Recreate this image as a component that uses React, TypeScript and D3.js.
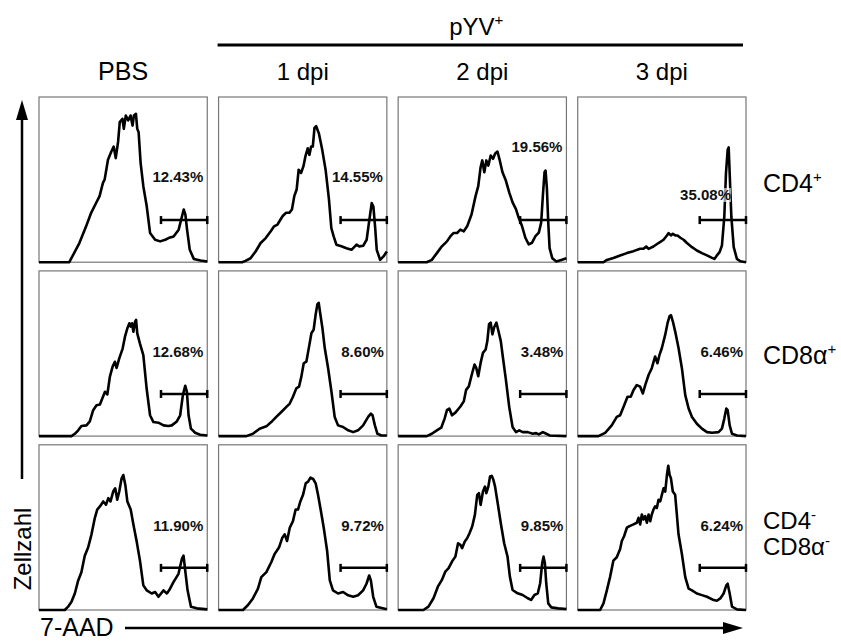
import React from 'react';
import * as d3 from 'd3';

// column and row headers
const columns = ['PBS', '1 dpi', '2 dpi', '3 dpi'];
const rowKeys = ['cd4', 'cd8', 'dn'];

// 7-AAD histograms, [channel %, count % of panel height]
const cd4Pbs = [[0,0],[18,0],[24,11.6],[28,21.7],[31,29.9],[34,36],[36,40],[38,48],[39,50],[41,62],[43,67],[44.4,70],[45.6,63],[47,72.8],[48,84.8],[49.6,86.8],[50.4,80.7],[51.6,88.8],[53,85.8],[54.4,88.8],[55.6,82.7],[56.4,88.8],[57.6,89.8],[58.4,80.7],[59.2,78.7],[60.4,60],[62,46],[64,34],[66,17.7],[69,13.6],[72,12.6],[75,13.6],[77,14.6],[80,15.6],[83,19.7],[85,27.8],[86,31.9],[87,28.8],[88,19.7],[89.6,7.5],[92,2],[96,1],[100,0.4]];
const cd4Dpi1 = [[0,0],[14,0],[16,0.8],[19,2.4],[22,6.5],[25,11.6],[28,14.6],[31,18.7],[33,21.7],[35,22.8],[38,27.8],[40,29.9],[42,29.9],[43.6,31.9],[45,40],[46.4,44],[47.6,56],[49,54],[50.4,58],[51.6,64],[53,69],[54,65],[55,70],[56,70],[57,81.3],[58,82.3],[59.6,78],[61.6,68],[63.6,56],[65.6,38],[67,20.7],[68.4,15.6],[70,10.6],[73,9.6],[76,8.5],[79,7.5],[82,10.6],[83.6,9.6],[86,10],[88,13.6],[89.6,25.6],[91,35.8],[92,33.7],[93,21.7],[94,7.5],[96,1.4],[98,3.5],[100,6.5]];
const cd4Dpi2 = [[0,0],[17,0],[20,1.4],[23,5.5],[26,9.6],[29,12.6],[31,15.6],[33,17.7],[35,17.7],[37,19.7],[39,18.7],[41,21.7],[43.6,28.9],[46,40],[47.6,46],[49,57.5],[50,61.6],[51.2,54.5],[52.4,61.6],[53.6,58.5],[55,64.6],[56.4,62.6],[57.6,65.7],[59,67],[60.4,61.6],[62,54.5],[64,49.4],[66,42.3],[68,36.2],[70,32.1],[71.6,27],[73.6,21.9],[75.6,14.8],[77.6,10.8],[79.6,11.8],[81.6,15.8],[83.6,17.9],[85,24],[86,40.2],[87,54.5],[87.6,55.5],[88.4,44.5],[89.2,24],[90,8.5],[91.6,2.4],[94,0.4],[97,1.4],[100,2.4]];
const cd4Dpi3 = [[0,0],[15.3,0],[17.3,1.4],[21.2,2.6],[25.2,4.1],[29.2,5.5],[33.1,6.7],[37.1,8.1],[39.1,8.1],[40.7,9.5],[42.1,8.1],[45,9.5],[48,11.6],[51,13.6],[53,16.2],[54,17.6],[55.4,16.2],[56.5,17.2],[58,16.2],[59.3,16.2],[61,14.8],[62.9,13.6],[64.9,11.6],[67.9,9.1],[70.8,7.1],[73.8,5.5],[76.8,4.1],[79.8,2.6],[81.2,2],[82.7,4.1],[84.3,6.1],[85.7,10.1],[87.1,27.4],[88.1,53.8],[89.1,68],[89.7,69.5],[90.3,53.8],[91.3,27.4],[92.7,9.1],[94.6,2],[96.6,0.6],[100,0]];

const cd8Pbs = [[0,0],[19.3,0],[21.3,1.4],[23.3,3.5],[25.2,6.1],[28.2,6.5],[30.2,8.9],[32.2,15.7],[34.2,18.7],[36.2,19.1],[37.2,21.7],[39.2,26.8],[40.6,25.2],[42.1,35.8],[43.7,41.9],[45.1,45],[46.1,41.3],[47.7,47],[49.7,53],[51.1,60.2],[52.5,65.2],[53.7,68.3],[54.5,66.3],[55.3,68.3],[56.1,63.2],[57.1,69.3],[57.7,70.3],[58.4,62.2],[60,56],[62,49],[64,28.5],[66,12.6],[68,8.5],[71,8.1],[74,6.5],[76.9,6.1],[78.9,6.5],[81.9,8.9],[83.9,12.6],[85.5,24.8],[86.9,30.5],[87.9,26.8],[88.9,12.6],[90.3,4.5],[92.8,2],[95.8,0.8],[100,0.4]];
const cd8Dpi1 = [[0,0],[16.5,0],[20.4,1.4],[24.4,4.5],[28.4,5.9],[31.3,8.5],[34.3,11.6],[37.3,14.6],[40.3,17.7],[42.3,19.7],[44.2,23.8],[46.2,28.9],[47.8,29.9],[49.2,36],[50.6,44.1],[52.2,45.1],[53.8,54.3],[55.2,62.4],[56.5,64.4],[57.7,73.6],[58.7,79.7],[59.5,80.7],[60.5,73.6],[61.7,65.5],[63.1,53.3],[65.1,41.1],[67.1,26.8],[69,11.6],[71,6.5],[74,5.5],[77,3.5],[80,2.4],[82.9,3.5],[85.9,6.5],[88.9,11.6],[90.5,13.6],[91.5,12.6],[92.9,6.5],[94.4,1.4],[96.8,0.4],[100,0.4]];
const cd8Dpi2 = [[0,0],[17,0],[20,1.4],[23,3.5],[25.6,5.1],[27.6,10.6],[29,15.7],[30.4,16.7],[32,12.6],[34,14.2],[37,17.9],[39,21],[40.4,28],[42,30.1],[44,38.2],[45.4,43.3],[46.4,41.3],[47.6,36.2],[49,44.3],[50.4,50.4],[52,52.4],[53,57.5],[54,67.7],[55,68.7],[56,61.6],[57,65.7],[58.4,68.7],[59.6,63.6],[61,57.5],[62.4,46.5],[64,34.3],[66,17.7],[68,5.5],[70,2.4],[72,3.5],[74,2.4],[77,2.4],[80,1.4],[82,1.8],[83.6,1],[86,2.4],[88,1.4],[90,0.4],[100,0]];
const cd8Dpi3 = [[0,0],[12.3,0],[16.3,2],[20.2,6.5],[23.2,11.6],[25.2,12.6],[27.6,18.7],[29.6,23.8],[31.5,23.8],[33.1,27.8],[35.1,30.9],[37.1,29.9],[38.7,25.8],[40.1,30.9],[42.1,37],[44,41.1],[46,48.2],[47.4,44.1],[48.6,49.2],[50,53.3],[52,61.4],[53.4,68.5],[54.6,72.6],[55.4,73.2],[56.5,69.5],[57.9,63.4],[59.9,53.3],[61.9,41.1],[63.9,24.8],[65.9,16.7],[67.9,11.6],[70.8,7.5],[73.8,4.5],[76.8,2.4],[79.8,2],[83.7,2.4],[85.7,4.5],[87.1,10.6],[88.3,16.7],[89.1,15.7],[90.3,6.5],[91.7,1.4],[94.6,0.4],[100,0]];

const dnPbs = [[0,0],[15.3,0],[17.3,2],[19.3,5],[21.3,10],[23.3,17.9],[25.2,22.9],[27.2,32.9],[29.2,37.8],[31.2,45.8],[33.2,55.8],[34.6,60.8],[36.2,62.7],[38.2,65.7],[39.8,63.7],[41.2,67.7],[42.5,65.7],[44.1,71.7],[45.3,73.7],[46.5,66.7],[47.7,71.7],[49.1,79.7],[50.1,81.7],[51.3,75.7],[52.5,65.7],[54.5,60.8],[56.1,51.8],[58,41.8],[60,29.9],[62,14.9],[64,11.9],[67,10],[69,10.9],[71,8],[74,11.9],[76,10],[77.9,12.9],[79.9,16.9],[82.9,21.9],[84.9,30.9],[85.9,32.9],[86.9,23.9],[88.3,11.9],[90.3,2],[93.8,1],[100,0.4]];
const dnDpi1 = [[0,0],[14.5,0],[17.5,3],[20.4,7],[23.4,12.9],[25.4,19.9],[28.4,22.9],[31.3,28.9],[33.3,33.9],[35.9,37.8],[37.9,43.8],[39.3,45.8],[40.7,41.8],[42.3,49.8],[44.2,53.8],[45.8,60.8],[47.2,60.8],[48.6,65.7],[50.2,69.7],[51.8,76.7],[53.2,77.7],[54.6,80.1],[56.2,79.3],[57.7,76.7],[59.1,69.7],[60.5,61.8],[62.5,49.8],[64.5,35.9],[66.1,17.9],[68,11.9],[71,10],[74,10.9],[77,8.9],[80,8],[82.9,8.9],[85.9,11.9],[87.9,15.9],[89.5,20.9],[90.5,17.9],[91.9,8],[93.8,2],[100,0.4]];
const dnDpi2 = [[0,0],[15,0],[18,2],[21,7.1],[23.6,14.1],[26,18.2],[28,23.2],[30,25.3],[32,29.3],[34,32.3],[35.6,40.4],[37,39.4],[38,37.4],[39.6,41.4],[41,43.4],[42.4,46.5],[44,50.5],[45.6,57.6],[47,69.7],[48,70.7],[49,63.6],[50.4,71.7],[51.6,74.7],[52.4,70.7],[53.6,74.7],[54.6,80.8],[55.6,81.2],[56.6,78.8],[57.6,74.7],[59,65.7],[61,52.5],[63,40.4],[65,32.3],[66.4,20.2],[68,12.1],[71,10.1],[74,9.1],[77,7.1],[79,6.1],[81,9.1],[83,10.1],[84.4,16.2],[85.6,28.3],[86.4,32.3],[87.2,28.3],[88,16.2],[89.2,4],[91,1.6],[95,1],[100,0.6]];
const dnDpi3 = [[0,0],[13.3,0],[15.3,4],[17.3,11.9],[19.2,19.9],[21.2,29.9],[23.2,31.9],[25.2,36.9],[26.2,41.8],[27.6,44.8],[29.2,49.8],[30.8,50.8],[33.1,51.8],[35.1,52.8],[36.1,55.8],[37.1,51.8],[38.1,57.8],[39.1,54.8],[40.1,56.8],[41.1,52.8],[42.1,57.8],[43.1,53.8],[44,57.8],[45,60.8],[46,62.7],[47,61.8],[48,66.7],[49,65.7],[50,69.7],[51,73.7],[52,71.7],[53,81.7],[53.8,87.3],[54.6,81.7],[55.4,79.7],[56.5,71.7],[57.9,69.7],[58.9,57.8],[59.9,45.8],[61.9,33.9],[63.9,19.9],[65.9,12.9],[67.9,11.9],[70.8,10],[73.8,9],[76.8,8],[80.8,6],[82.7,5.6],[84.7,7],[86.7,10],[88.3,14.9],[89.1,15.9],[90.3,10],[91.7,2],[94.6,0.4],[100,0]];

const histograms = [
  [cd4Pbs, cd4Dpi1, cd4Dpi2, cd4Dpi3],
  [cd8Pbs, cd8Dpi1, cd8Dpi2, cd8Dpi3],
  [dnPbs, dnDpi1, dnDpi2, dnDpi3],
];

// percentage of 7-AAD+ cells in the gate
const gatePercents = [
  ['12.43%', '14.55%', '19.56%', '35.08%'],
  ['12.68%', '8.60%', '3.48%', '6.46%'],
  ['11.90%', '9.72%', '9.85%', '6.24%'],
];
const gateRange = [72.5, 100];
const gateLevel = 25.5;

// where each percent label sits: [baseline px from panel top, px in from right]
const labelPlacement = [
  [[85, 4], [85, 4], [55, 4], [103, 15]],
  [[86, 4], [86, 3], [86, 3], [86, 3]],
  [[86, 4], [86, 3], [86, 3], [86, 3]],
];

const W = 841;
const H = 641;
const font = '"Liberation Sans", Arial, Helvetica, sans-serif';

const Sup = ({ t, dy = -10 }: { t: string; dy?: number }) => (
  <tspan fontSize={15} dy={dy}>{t}</tspan>
);

export default function App() {
  const xBand = d3.scaleBand<string>().domain(columns).range([39, 746]).paddingInner(0.063);
  const yBand = d3.scaleBand<string>().domain(rowKeys).range([97, 610]).paddingInner(0.05);
  const bw = xBand.bandwidth();
  const bh = yBand.bandwidth();
  const x = d3.scaleLinear().domain([0, 100]).range([0, bw]);
  const y = d3.scaleLinear().domain([0, 100]).range([bh, 0]);
  const line = d3.line<number[]>().x(d => x(d[0])).y(d => y(d[1])).curve(d3.curveLinear);

  const pyvLeft = xBand('1 dpi')! - 1;
  const pyvRight = xBand('3 dpi')! + bw - 3;
  const pyvMid = (pyvLeft + pyvRight) / 2;

  return (
    <div style={{ position: 'absolute', left: 0, top: 0 }}>
      <svg width={W} height={H} style={{ display: 'block', background: '#fff' }} fontFamily={font}>
        {/* group header */}
        <text x={pyvMid - 4} y={35} fontSize={24} textAnchor="middle">
          pYV<Sup t="+" />
        </text>
        <line x1={pyvLeft} x2={pyvRight} y1={45} y2={45} stroke="#000" strokeWidth={3} />

        {columns.map(c => (
          <text key={c} x={xBand(c)! + bw / 2} y={80} fontSize={c === 'PBS' ? 25 : 24} textAnchor="middle">{c}</text>
        ))}

        {/* row labels */}
        <text x={763} y={192} fontSize={25}>CD4<Sup t="+" /></text>
        <text x={763} y={364} fontSize={25}>CD8α<Sup t="+" /></text>
        <text x={763} y={529} fontSize={24}>CD4<Sup t="-" dy={-9} /></text>
        <text x={763} y={555} fontSize={24}>CD8α<Sup t="-" dy={-9} /></text>

        {histograms.map((row, ri) =>
          row.map((data, ci) => {
            const px = xBand(columns[ci])!;
            const py = yBand(rowKeys[ri])!;
            const [dyLabel, rightIn] = labelPlacement[ri][ci];
            const label = gatePercents[ri][ci];
            const gy = y(gateLevel);
            const gx0 = x(gateRange[0]);
            const gx1 = x(gateRange[1]);
            const lw = label.length * 8.1;
            return (
              <g key={`${ri}-${ci}`} transform={`translate(${px},${py})`}>
                <rect x={0} y={0} width={bw} height={bh} fill="#fff" stroke="#777" strokeWidth={1.2} />
                <path d={line(data) || ''} fill="none" stroke="#000" strokeWidth={2.6} strokeLinejoin="round" />
                <line x1={gx0} x2={gx1} y1={gy} y2={gy} stroke="#000" strokeWidth={2.5} />
                <line x1={gx0} x2={gx0} y1={gy - 4} y2={gy + 4} stroke="#000" strokeWidth={2.5} />
                <line x1={gx1} x2={gx1} y1={gy - 4} y2={gy + 4} stroke="#000" strokeWidth={2.5} />
                {ri === 0 && ci === 3 && (
                  <rect x={bw - rightIn - lw} y={dyLabel - 12} width={lw} height={14} fill="#fff" opacity={0.6} />
                )}
                <text x={bw - rightIn} y={dyLabel} fontSize={15} fontWeight="bold" textAnchor="end" fill="#111">
                  {label}
                </text>
              </g>
            );
          })
        )}

        {/* y axis: Zellzahl */}
        <line x1={22} x2={22} y1={479} y2={116} stroke="#000" strokeWidth={2.5} />
        <path d="M22,100 L16,120 L28,120 Z" fill="#000" />
        <text transform="translate(31,549) rotate(-90)" fontSize={24} textAnchor="middle">Zellzahl</text>

        {/* x axis: 7-AAD */}
        <text x={40} y={636} fontSize={25}>7-AAD</text>
        <line x1={125} x2={726} y1={628} y2={628} stroke="#000" strokeWidth={2.5} />
        <path d="M743,628 L723,622 L723,634 Z" fill="#000" />
      </svg>
    </div>
  );
}
